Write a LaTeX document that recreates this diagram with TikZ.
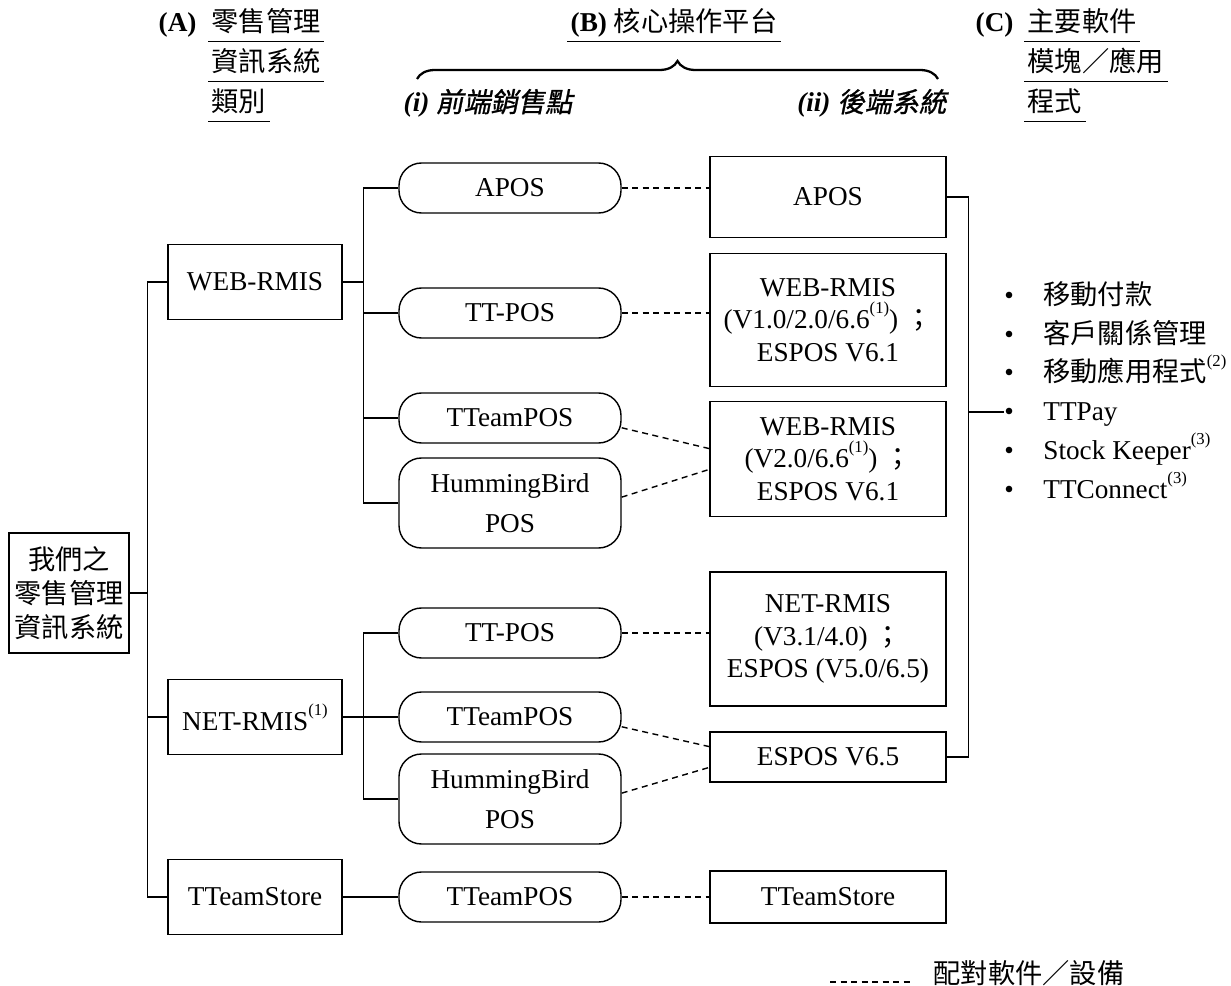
\documentclass[tikz,border=0pt]{standalone}
\usepackage{fontspec}
\setmainfont{Liberation Serif}
\newfontfamily\zhfont{Noto Sans CJK TC}
\newfontfamily\zhitfont{Noto Sans CJK TC}[FakeSlant=0.2,FakeBold=1]
\usepackage{tikz}
\usetikzlibrary{calc,positioning,decorations.pathreplacing}
\newcommand{\zh}[1]{{\zhfont #1}}
\newcommand{\zhit}[1]{{\zhitfont #1}}
\newcommand{\sups}[1]{\raisebox{0.55em}{\fontsize{9.5pt}{10pt}\selectfont #1}}
\newcommand{\nodesize}{\fontsize{15.5pt}{18.5pt}\selectfont}
\newcommand{\hbsize}{\fontsize{15.5pt}{22.7pt}\selectfont}
\newcommand{\listsize}{\fontsize{15.5pt}{22.1pt}\selectfont}
\newcommand{\bul}{\makebox[0.78cm][l]{\textbullet}}
\tikzset{
	sysbox/.style={draw, minimum width=3.48cm, minimum height=1.5cm, align=center},
	posbox/.style={draw, rounded corners=0.45cm, minimum width=4.44cm, minimum height=1cm, align=center},
	backbox/.style={draw, minimum width=4.72cm, align=center},
	pair/.style={dash pattern=on 0.12cm off 0.09cm},
	hdr/.style={anchor=base west, inner xsep=0.06cm, inner ysep=0pt, text depth=0.18cm},
}
\begin{document}
\begin{tikzpicture}[on grid, font=\nodesize, line width=0.8pt]
			\useasboundingbox (0,0) rectangle (24.62,-19.72);
			\node[draw, align=center, minimum width=2.4cm, minimum height=2.4cm, inner sep=0pt, font={\fontsize{15.5pt}{19.3pt}\selectfont\zhfont}] (root) at (1.38,-11.86) {我們之\\零售管理\\資訊系統};
			\node[sysbox] (web) [above right = 6.22cm and 3.72cm of root] {WEB-RMIS};
			\node[sysbox] (net) [below right = 2.48cm and 3.72cm of root] {NET-RMIS\sups{(1)}};
			\node[sysbox] (tstore) [below right = 6.08cm and 3.72cm of root] {TTeamStore};
			
			\node[posbox] (wapos) [above right = 1.88cm and 5.1cm of web] {APOS};
			\node[posbox] (wtpos) [below right = 0.62cm and 5.1cm of web] {TT-POS};
			\node[posbox] (wteam) [below right = 2.72cm and 5.1cm of web] {TTeamPOS};
			\node[posbox, minimum height=1.8cm, font=\hbsize] (whb) [below right = 4.42cm and 5.1cm of web] {HummingBird\\POS};
			\node[posbox] (ntpos) [above right = 1.68cm and 5.1cm of net] {TT-POS};
			\node[posbox] (nteam) [right = 5.1cm of net] {TTeamPOS};
			\node[posbox, minimum height=1.8cm, font=\hbsize] (nhb) [below right = 1.64cm and 5.1cm of net] {HummingBird\\POS};
			\node[posbox] (tpos) [right = 5.1cm of tstore] {TTeamPOS};
			
			\node[backbox, minimum height=1.62cm] (bapos) [below right = 0.18cm and 6.36cm of wapos] {APOS};
			\node[backbox, minimum height=2.66cm] (bweb1) [below right = 0.14cm and 6.36cm of wtpos] {WEB-RMIS\\(V1.0/2.0/6.6\sups{(1)}) \zh{；}\\ESPOS V6.1};
			\node[backbox, minimum height=2.3cm] (bweb2) [below right = 0.82cm and 6.36cm of wteam] {WEB-RMIS\\(V2.0/6.6\sups{(1)}) \zh{；}\\ESPOS V6.1};
			\node[backbox, minimum height=2.68cm] (bnet) [below right = 0.12cm and 6.36cm of ntpos] {NET-RMIS\\(V3.1/4.0) \zh{；}\\ESPOS (V5.0/6.5)};
			\node[backbox, minimum height=1cm] (bv65) [below right = 0.8cm and 6.36cm of nteam] {ESPOS V6.5};
			\node[backbox, minimum height=1.04cm] (bts) [right = 6.36cm of tpos] {TTeamStore};
			
			\draw (root.east) -- ++(0.36,0) coordinate (trunk);
			\foreach \s in {web, net, tstore} \draw (trunk) |- (\s.west);
			\draw (web.east) -- ++(0.42,0) coordinate (wfork);
			\foreach \p in {wapos, wtpos, wteam, whb} \draw (wfork) |- (\p.west);
			\draw (net.east) -- ++(0.42,0) coordinate (nfork);
			\foreach \p in {ntpos, nteam, nhb} \draw (nfork) |- (\p.west);
			\draw (tstore) -- (tpos);
			
			\draw[pair] (wapos.east) -- (bapos.west |- wapos.east);
			\draw[pair] (wtpos.east) -- (bweb1.west |- wtpos.east);
			\draw[pair] (wteam.-5) -- (bweb2.175);
			\draw[pair] (whb.3) -- (bweb2.185);
			\draw[pair] (ntpos.east) -- (bnet.west |- ntpos.east);
			\draw[pair] (nteam.-5) -- (bv65.175);
			\draw[pair] (nhb.3) -- (bv65.185);
			\draw[pair] (tpos) -- (bts);
			
			\draw (bapos.east) -- ++(0.44,0) |- (bv65.east);
			\coordinate (bus) at ($(bapos.east)+(0.44,-4.3)$);
			\node[align=left, inner sep=0pt, anchor=west, font=\listsize] (mods) at ($(bus)+(0.7,0.44)$) {\bul\zh{移動付款}\\\bul\zh{客戶關係管理}\\\bul\zh{移動應用程式}\sups{(2)}\\\bul TTPay\\\bul Stock Keeper\sups{(3)}\\\bul TTConnect\sups{(3)}};
			\draw (bus) -- (mods.west |- bus);
			
			\node[hdr, inner xsep=0pt] (hA) at (3.16,-0.64) {\textbf{(A)}};
			\node[hdr] (hA1) at (4.16,-0.64) {\zh{零售管理}};
			\node[hdr] (hA2) at (4.16,-1.44) {\zh{資訊系統}};
			\node[hdr] (hA3) at (4.16,-2.24) {\zh{類別}};
			\node[hdr] (hB) at (11.34,-0.64) {\textbf{(B)} \zh{核心操作平台}};
			\node[hdr, inner xsep=0pt] (hC) at (19.5,-0.64) {\textbf{(C)}};
			\node[hdr] (hC1) at (20.48,-0.64) {\zh{主要軟件}};
			\node[hdr] (hC2) at (20.48,-1.44) {\zh{模塊／應用}};
			\node[hdr] (hC3) at (20.48,-2.24) {\zh{程式}};
			\foreach \h in {hA1, hA2, hA3, hB, hC1, hC2, hC3} \draw[line width=0.7pt] (\h.south west) -- (\h.south east);
			\draw[decorate, decoration={brace, amplitude=0.36cm}, line width=1.3pt] (8.34,-1.58) -- (18.76,-1.58);
			\node[anchor=base west, inner sep=0pt] (hfront) at (8.06,-2.24) {\textbf{\textit{(i)}} \zhit{前端銷售點}};
			\node[anchor=base east, inner sep=0pt] (hback) at (18.94,-2.24) {\textbf{\textit{(ii)}} \zhit{後端系統}};
			
			\coordinate (legstart) at (16.6,-19.64);
			\node[anchor=base west, inner xsep=0.4cm, inner ysep=0pt] (legend) at (18.26,-19.66) {\zh{配對軟件／設備}};
			\draw[pair] (legstart) -- (legstart -| legend.base west);
\end{tikzpicture}
\end{document}
